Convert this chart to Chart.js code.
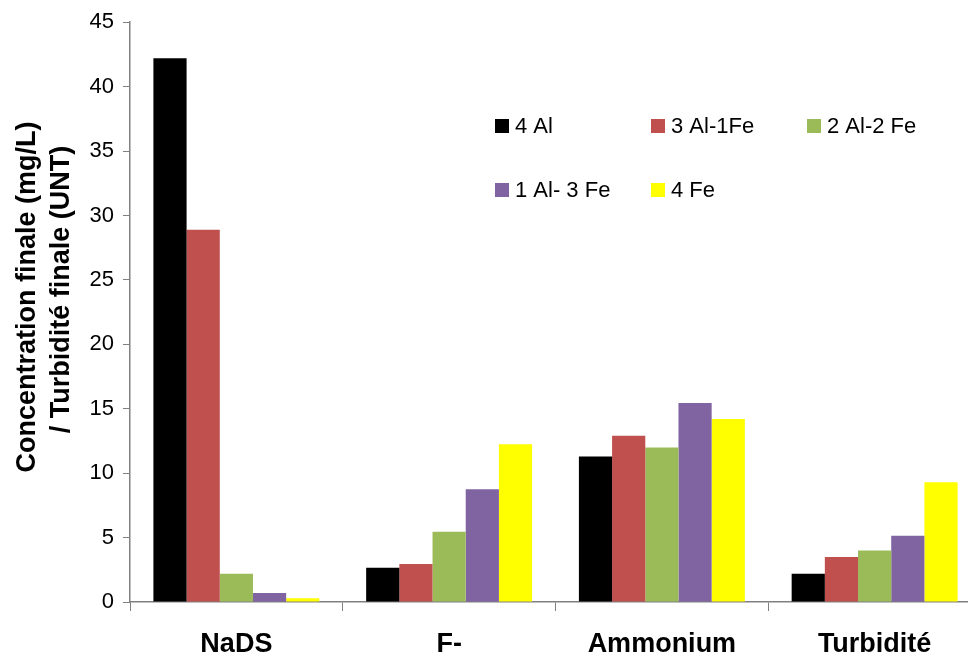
<!DOCTYPE html>
<html>
<head>
<meta charset="utf-8">
<script src="https://cdn.jsdelivr.net/npm/chart.js@4"></script>
<style>
  html, body { margin: 0; padding: 0; background: #fff; overflow: hidden; }
  #wrap { width: 990px; height: 656px; }
</style>
</head>
<body>
<div id="wrap"><canvas id="myChart" width="990" height="656"></canvas></div>
<script>
// data
const categories = ['NaDS', 'F-', 'Ammonium', 'Turbidité'];
const seriesNames = ['4 Al', '3 Al-1Fe', '2 Al-2 Fe', '1 Al- 3 Fe', '4 Fe'];
const al4     = [42.2, 2.65, 11.3, 2.2];
const al3fe1  = [28.9, 2.95, 12.9, 3.5];
const al2fe2  = [2.2, 5.45, 12.0, 4.0];
const al1fe3  = [0.7, 8.75, 15.45, 5.15];
const fe4     = [0.3, 12.25, 14.2, 9.3];
const colors = ['#000000', '#C0504D', '#9BBB59', '#8064A2', '#FFFF00'];

const allSeries = [al4, al3fe1, al2fe2, al1fe3, fe4];
const datasets = [];
for (let i = 0; i < allSeries.length; i++) {
  datasets.push({
    label: seriesNames[i],
    data: allSeries[i],
    backgroundColor: colors[i],
    borderWidth: 0,
    barPercentage: 1.0,
    categoryPercentage: 0.78
  });
}

// legend drawn in two rows inside the plot, like the original
const gridLegend = {
  id: 'gridLegend',
  afterDraw(chart) {
    const ctx = chart.ctx;
    const cols = [495, 651, 807];
    const rows = [126, 190];
    ctx.save();
    ctx.font = '22px "Liberation Sans", Arial, sans-serif';
    ctx.textBaseline = 'middle';
    chart.data.datasets.forEach((ds, i) => {
      const x = cols[i % 3];
      const y = rows[Math.floor(i / 3)];
      ctx.fillStyle = ds.backgroundColor;
      ctx.fillRect(x, y - 7, 14, 14);
      ctx.fillStyle = '#000';
      ctx.fillText(ds.label, x + 20, y + 1);
    });
    ctx.restore();
  }
};

const config = {
  type: 'bar',
  data: { labels: categories, datasets: datasets },
  options: {
    responsive: false,
    animation: false,
    layout: { padding: { top: 22, right: 9, left: 0, bottom: 0 } },
    plugins: { legend: { display: false }, tooltip: { enabled: false } },
    scales: {
      x: {
        grid: { drawOnChartArea: false, drawTicks: true, tickLength: 9, color: '#808080', lineWidth: 1 },
        border: { color: '#808080', width: 1.5 },
        ticks: {
          color: '#000',
          padding: 17,
          font: { family: '"Liberation Sans", Arial, sans-serif', size: 27, weight: 'bold' }
        },
        afterFit(scale) { scale.height = 54; }
      },
      y: {
        min: 0,
        max: 45,
        ticks: {
          stepSize: 5,
          color: '#000',
          padding: 9,
          font: { family: '"Liberation Sans", Arial, sans-serif', size: 22 }
        },
        grid: { drawOnChartArea: false, drawTicks: true, tickLength: 7, color: '#808080' },
        border: { color: '#808080', width: 1.5 },
        title: {
          display: true,
          // leading spaces nudge the lines upward, as in the original
          text: ['\u00a0\u00a0\u00a0\u00a0Concentration finale (mg/L)', '\u00a0\u00a0\u00a0\u00a0\u00a0\u00a0/ Turbidité finale (UNT)'],
          color: '#000',
          padding: { top: 11, bottom: 0 },
          font: { family: '"Liberation Sans", Arial, sans-serif', size: 27, weight: 'bold', lineHeight: 1.26 }
        },
        afterFit(scale) { scale.width = 130; }
      }
    }
  },
  plugins: [gridLegend]
};

const myChart = new Chart(document.getElementById('myChart'), config);
</script>
</body>
</html>
